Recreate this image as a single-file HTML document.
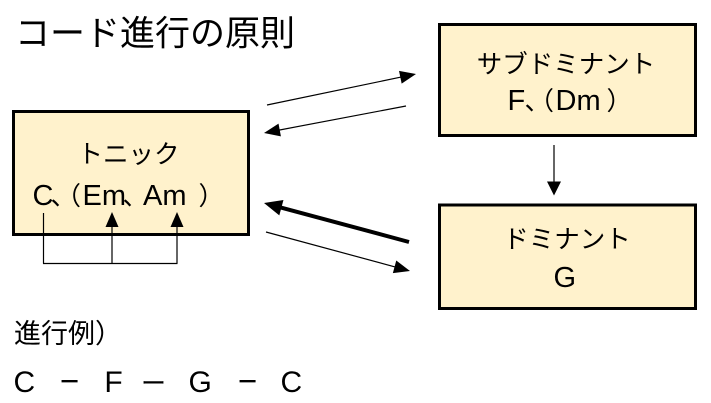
<!DOCTYPE html>
<html>
<head>
<meta charset="utf-8">
<style>
  html, body { margin:0; padding:0; background:#fff; }
  body { width:711px; height:403px; overflow:hidden; }
  svg { display:block; }
  text { font-family: "Liberation Sans", "Noto Sans CJK JP", sans-serif; fill:#000; }
</style>
</head>
<body>
<svg width="711" height="403" viewBox="0 0 711 403" xmlns="http://www.w3.org/2000/svg">
  <!-- Title -->
  <text x="15" y="45.5" font-size="35">コード進行の原則</text>

  <!-- Boxes -->
  <rect x="13.5" y="111.5" width="235" height="123" fill="#FFF2CC" stroke="#000" stroke-width="3"/>
  <rect x="439.5" y="24.5" width="256" height="111" fill="#FFF2CC" stroke="#000" stroke-width="3"/>
  <rect x="439.5" y="205" width="256" height="103.5" fill="#FFF2CC" stroke="#000" stroke-width="3"/>

  <!-- Tonic text -->
  <text x="128.5" y="163" font-size="25.5" text-anchor="middle">トニック</text>
  <text x="32.5" y="205" font-size="29">C</text>
  <text x="50.5" y="205" font-size="25.5">、</text>
  <text x="55.5" y="205" font-size="25.5">（</text>
  <text x="82.5" y="205" font-size="29">Em</text>
  <text x="122.5" y="205" font-size="25.5">、</text>
  <text x="143" y="205" font-size="29">Am</text>
  <text x="198.5" y="205" font-size="25.5">）</text>

  <!-- Subdominant text -->
  <text x="566" y="73" font-size="25.5" text-anchor="middle">サブドミナント</text>
  <text x="507.5" y="110" font-size="29">F</text>
  <text x="524.5" y="110" font-size="25.5">、</text>
  <text x="528.5" y="110" font-size="25.5">（</text>
  <text x="555.5" y="110" font-size="29">Dm</text>
  <text x="606.5" y="110" font-size="25.5">）</text>

  <!-- Dominant text -->
  <text x="567" y="248" font-size="25.5" text-anchor="middle">ドミナント</text>
  <text x="553.5" y="287" font-size="29">G</text>

  <!-- Tonic inner connectors -->
  <g stroke="#000" stroke-width="1.2" fill="none">
    <line x1="43.5" y1="213" x2="43.5" y2="263.5"/>
    <line x1="43" y1="263.5" x2="177.5" y2="263.5"/>
    <line x1="112" y1="263.5" x2="112" y2="226"/>
    <line x1="177" y1="263.5" x2="177" y2="226"/>
  </g>
  <polygon points="112,212 105.5,227 118.5,227" fill="#000"/>
  <polygon points="177,212 170.5,227 183.5,227" fill="#000"/>

  <!-- Down arrow subdominant -> dominant -->
  <line x1="554" y1="145" x2="554" y2="183" stroke="#000" stroke-width="1.2"/>
  <polygon points="554,195.5 547,181.5 561,181.5" fill="#000"/>

  <!-- A1: tonic -> subdominant -->
  <line x1="267" y1="105" x2="401" y2="77.1" stroke="#000" stroke-width="1.2"/>
  <polygon points="416,74 401.66,83.62 399.02,70.90" fill="#000"/>

  <!-- A2: subdominant -> tonic -->
  <line x1="406" y1="106" x2="279" y2="130.1" stroke="#000" stroke-width="1.2"/>
  <polygon points="264,133 278.51,123.62 280.93,136.40" fill="#000"/>

  <!-- A3: dominant -> tonic (thick) -->
  <line x1="409" y1="242" x2="280" y2="207.3" stroke="#000" stroke-width="4"/>
  <polygon points="264,203 283.46,199.95 279.30,215.40" fill="#000"/>

  <!-- A4: tonic -> dominant -->
  <line x1="266" y1="232" x2="395" y2="266.9" stroke="#000" stroke-width="1.2"/>
  <polygon points="410,271 392.86,273.09 396.26,260.55" fill="#000"/>

  <!-- Example progression -->
  <text x="14" y="343" font-size="27">進行例）</text>
  <text x="13.5" y="392" font-size="30">C</text>
  <text x="60" y="392" font-size="33">−</text>
  <text x="104.4" y="392" font-size="30">F</text>
  <text x="141" y="392" font-size="25">ー</text>
  <text x="188.5" y="392" font-size="30">G</text>
  <text x="238" y="392" font-size="33">−</text>
  <text x="280.5" y="392" font-size="30">C</text>
</svg>
</body>
</html>
